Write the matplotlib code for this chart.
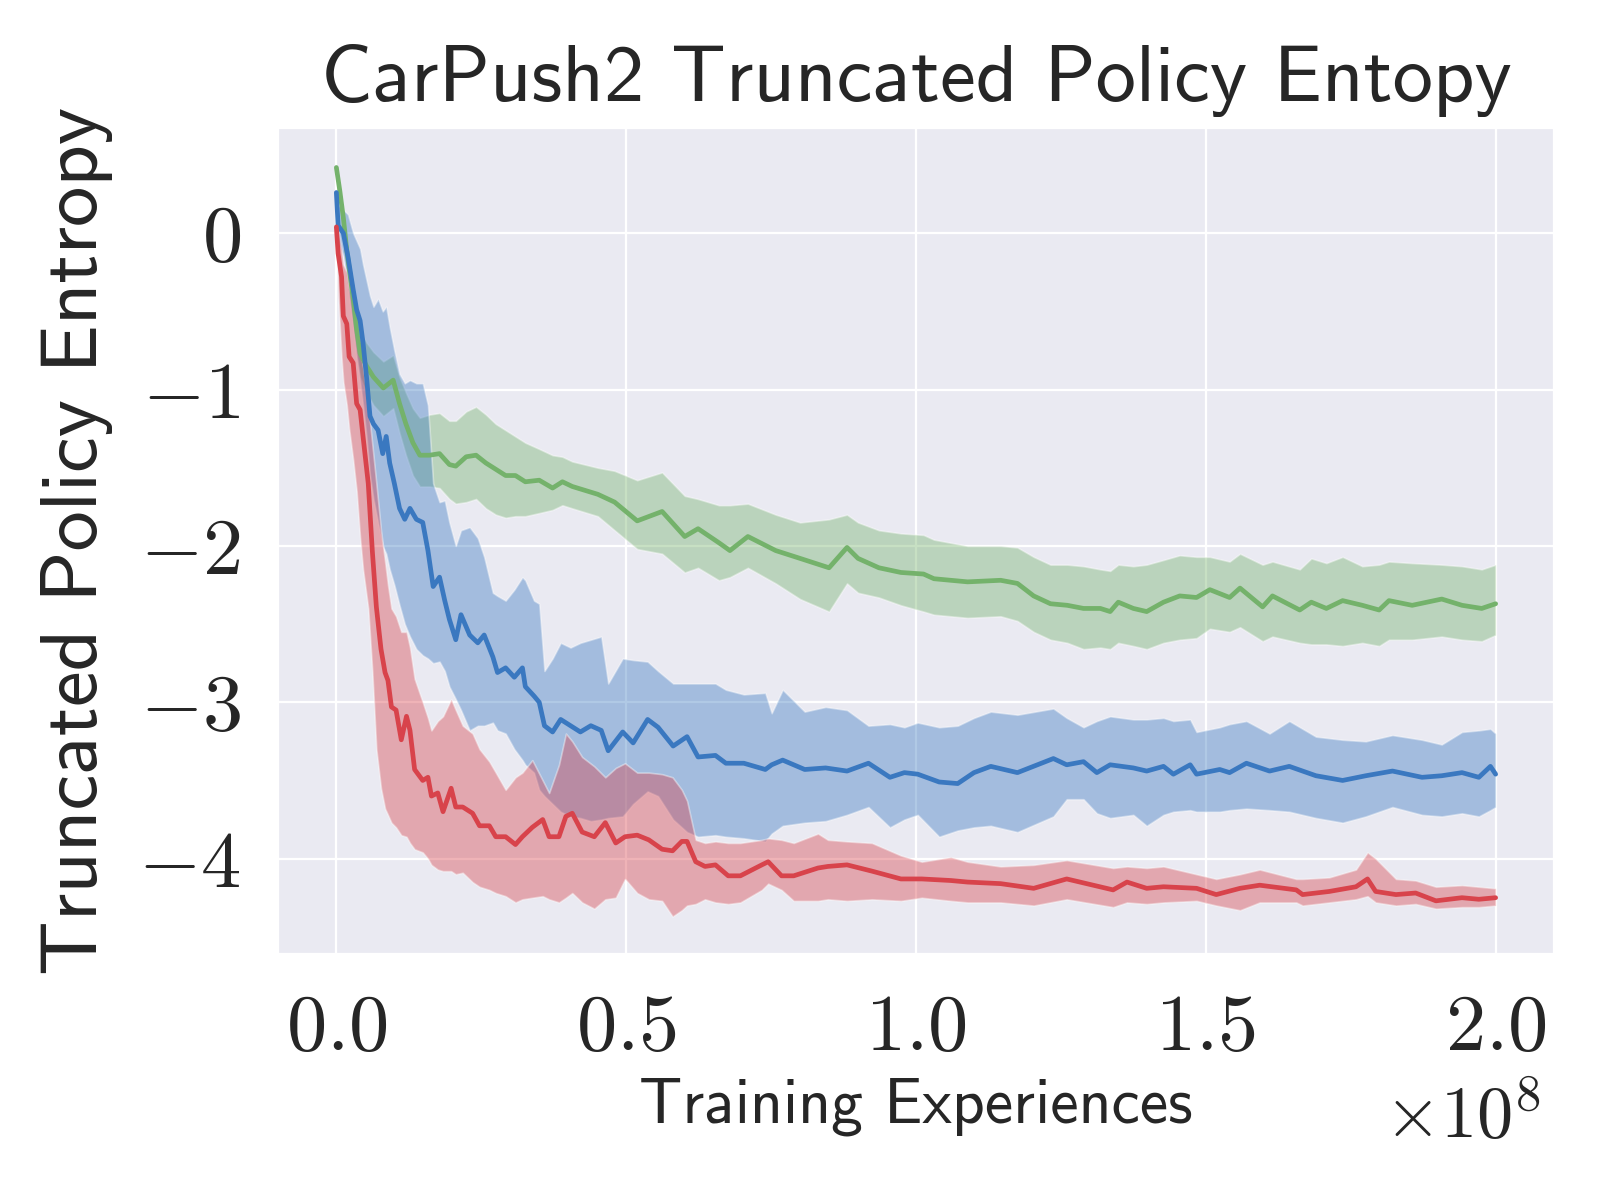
"""
CarPush2 truncated policy entropy vs training experiences.
Three runs, mean curve with a shaded band.
"""

import numpy as np
import matplotlib
matplotlib.use("Agg")
import matplotlib.pyplot as plt
from matplotlib.ticker import FuncFormatter
import seaborn as sns

# x positions are in units of 1e8 training experiences
SCALE = 1e8

# --- green run ---
green_x = [0.000, 0.006, 0.012, 0.018, 0.024, 0.030, 0.035, 0.041, 0.052, 0.064,
           0.081, 0.098, 0.109, 0.120, 0.132, 0.144, 0.161, 0.178, 0.195, 0.206,
           0.224, 0.241, 0.258, 0.275, 0.292, 0.309, 0.326, 0.350, 0.373, 0.390,
           0.407, 0.451, 0.480, 0.519, 0.562, 0.601, 0.624, 0.660, 0.679, 0.710,
           0.758, 0.800, 0.850, 0.881, 0.900, 0.936, 0.974, 1.013, 1.031, 1.089,
           1.146, 1.175, 1.203, 1.232, 1.261, 1.289, 1.318, 1.335, 1.349, 1.375,
           1.398, 1.427, 1.455, 1.484, 1.507, 1.541, 1.559, 1.598, 1.615, 1.662,
           1.682, 1.708, 1.736, 1.770, 1.799, 1.816, 1.856, 1.907, 1.942, 1.976,
           2.000]
green_mean = [0.42, 0.27, 0.10, -0.11, -0.28, -0.45, -0.62, -0.77, -0.85, -0.92,
              -0.99, -0.94, -1.09, -1.22, -1.34, -1.42, -1.42, -1.41, -1.48, -1.49,
              -1.43, -1.42, -1.47, -1.51, -1.55, -1.55, -1.59, -1.58, -1.63, -1.59,
              -1.62, -1.67, -1.72, -1.84, -1.78, -1.94, -1.89, -1.98, -2.03, -1.94,
              -2.03, -2.08, -2.14, -2.01, -2.08, -2.14, -2.17, -2.18, -2.21, -2.23,
              -2.22, -2.24, -2.32, -2.37, -2.38, -2.40, -2.40, -2.42, -2.36, -2.40,
              -2.42, -2.36, -2.32, -2.33, -2.28, -2.33, -2.27, -2.39, -2.32, -2.41,
              -2.36, -2.40, -2.35, -2.38, -2.41, -2.35, -2.38, -2.34, -2.38, -2.40,
              -2.37]
green_hi = [0.43, 0.30, 0.15, -0.04, -0.18, -0.33, -0.48, -0.62, -0.70, -0.76,
            -0.82, -0.78, -0.92, -1.02, -1.12, -1.18, -1.16, -1.15, -1.20, -1.20,
            -1.14, -1.11, -1.16, -1.22, -1.26, -1.30, -1.34, -1.38, -1.42, -1.43,
            -1.46, -1.50, -1.52, -1.58, -1.53, -1.68, -1.70, -1.74, -1.74, -1.73,
            -1.80, -1.85, -1.83, -1.80, -1.85, -1.90, -1.92, -1.93, -1.96, -2.00,
            -2.00, -2.01, -2.07, -2.12, -2.12, -2.13, -2.15, -2.16, -2.12, -2.13,
            -2.12, -2.09, -2.06, -2.07, -2.07, -2.10, -2.05, -2.12, -2.10, -2.15,
            -2.08, -2.11, -2.07, -2.13, -2.12, -2.10, -2.11, -2.12, -2.13, -2.15,
            -2.12]
green_lo = [0.40, 0.22, 0.03, -0.20, -0.40, -0.58, -0.76, -0.92, -1.02, -1.10,
            -1.17, -1.12, -1.28, -1.42, -1.55, -1.62, -1.62, -1.63, -1.70, -1.73,
            -1.72, -1.70, -1.76, -1.80, -1.82, -1.81, -1.81, -1.79, -1.77, -1.74,
            -1.76, -1.81, -1.90, -2.02, -2.05, -2.17, -2.14, -2.22, -2.20, -2.14,
            -2.24, -2.34, -2.42, -2.24, -2.30, -2.33, -2.38, -2.42, -2.44, -2.46,
            -2.45, -2.48, -2.55, -2.60, -2.62, -2.66, -2.65, -2.66, -2.62, -2.64,
            -2.66, -2.62, -2.60, -2.59, -2.53, -2.55, -2.52, -2.61, -2.58, -2.62,
            -2.63, -2.63, -2.64, -2.62, -2.64, -2.60, -2.60, -2.58, -2.60, -2.61,
            -2.57]

# --- blue run ---
blue_x = [0.000, 0.003, 0.012, 0.020, 0.029, 0.035, 0.041, 0.046, 0.052, 0.058,
          0.064, 0.072, 0.080, 0.086, 0.092, 0.100, 0.109, 0.118, 0.127, 0.138,
          0.149, 0.158, 0.167, 0.178, 0.187, 0.195, 0.206, 0.215, 0.230, 0.244,
          0.255, 0.270, 0.278, 0.292, 0.307, 0.321, 0.326, 0.341, 0.350, 0.359,
          0.373, 0.387, 0.404, 0.421, 0.439, 0.457, 0.469, 0.494, 0.512, 0.537,
          0.555, 0.581, 0.605, 0.624, 0.654, 0.672, 0.703, 0.740, 0.751, 0.770,
          0.808, 0.844, 0.881, 0.918, 0.955, 0.980, 1.003, 1.040, 1.072, 1.100,
          1.129, 1.175, 1.237, 1.260, 1.289, 1.312, 1.335, 1.375, 1.398, 1.427,
          1.444, 1.473, 1.484, 1.524, 1.541, 1.570, 1.610, 1.644, 1.690, 1.736,
          1.776, 1.822, 1.873, 1.907, 1.942, 1.971, 1.991, 2.000]
blue_mean = [0.26, 0.05, 0.00, -0.15, -0.36, -0.49, -0.56, -0.70, -0.92, -1.17,
             -1.22, -1.26, -1.41, -1.30, -1.47, -1.60, -1.76, -1.83, -1.76, -1.83,
             -1.85, -2.03, -2.26, -2.20, -2.35, -2.47, -2.60, -2.44, -2.57, -2.62,
             -2.57, -2.71, -2.81, -2.78, -2.84, -2.78, -2.90, -2.96, -3.00, -3.15,
             -3.19, -3.11, -3.15, -3.19, -3.15, -3.18, -3.31, -3.19, -3.26, -3.11,
             -3.16, -3.28, -3.22, -3.35, -3.34, -3.39, -3.39, -3.43, -3.40, -3.37,
             -3.43, -3.42, -3.44, -3.39, -3.48, -3.45, -3.46, -3.51, -3.52, -3.45,
             -3.41, -3.45, -3.36, -3.40, -3.38, -3.45, -3.40, -3.42, -3.44, -3.41,
             -3.46, -3.40, -3.46, -3.43, -3.45, -3.39, -3.44, -3.41, -3.47, -3.50,
             -3.47, -3.44, -3.48, -3.47, -3.45, -3.48, -3.41, -3.46]
blue_hi = [0.27, 0.18, 0.15, 0.12, 0.00, -0.05, -0.10, -0.20, -0.30, -0.40,
           -0.47, -0.42, -0.50, -0.47, -0.60, -0.75, -0.90, -0.96, -0.94, -0.96,
           -0.96, -1.10, -1.60, -1.72, -1.71, -1.85, -2.00, -1.90, -1.88, -1.95,
           -2.07, -2.30, -2.32, -2.35, -2.28, -2.20, -2.22, -2.35, -2.37, -2.80,
           -2.72, -2.62, -2.65, -2.62, -2.60, -2.58, -2.88, -2.72, -2.73, -2.74,
           -2.80, -2.88, -2.88, -2.88, -2.88, -2.92, -2.95, -2.94, -3.07, -2.92,
           -3.06, -3.03, -3.05, -3.15, -3.14, -3.16, -3.13, -3.16, -3.15, -3.10,
           -3.06, -3.08, -3.04, -3.10, -3.16, -3.12, -3.09, -3.11, -3.11, -3.10,
           -3.12, -3.11, -3.19, -3.16, -3.14, -3.12, -3.20, -3.12, -3.22, -3.24,
           -3.25, -3.21, -3.24, -3.27, -3.19, -3.18, -3.17, -3.20]
blue_lo = [0.24, -0.05, -0.15, -0.35, -0.60, -0.80, -0.95, -1.10, -1.30, -1.55,
           -1.70, -1.85, -2.00, -2.05, -2.15, -2.25, -2.38, -2.50, -2.58, -2.66,
           -2.70, -2.72, -2.75, -2.74, -2.80, -2.90, -2.98, -3.05, -3.18, -3.15,
           -3.15, -3.13, -3.18, -3.20, -3.30, -3.37, -3.40, -3.45, -3.56, -3.60,
           -3.65, -3.70, -3.73, -3.74, -3.76, -3.75, -3.74, -3.73, -3.65, -3.57,
           -3.60, -3.75, -3.83, -3.86, -3.85, -3.86, -3.87, -3.89, -3.84, -3.79,
           -3.77, -3.76, -3.72, -3.67, -3.80, -3.75, -3.72, -3.86, -3.82, -3.80,
           -3.79, -3.83, -3.73, -3.62, -3.62, -3.71, -3.74, -3.72, -3.79, -3.72,
           -3.70, -3.69, -3.70, -3.70, -3.69, -3.68, -3.69, -3.70, -3.74, -3.77,
           -3.73, -3.67, -3.72, -3.73, -3.71, -3.73, -3.69, -3.67]

# --- red run ---
red_x = [0.000, 0.003, 0.009, 0.012, 0.018, 0.022, 0.029, 0.035, 0.041, 0.046,
         0.055, 0.062, 0.069, 0.077, 0.084, 0.089, 0.095, 0.103, 0.112, 0.121,
         0.127, 0.135, 0.149, 0.158, 0.164, 0.175, 0.184, 0.198, 0.206, 0.218,
         0.235, 0.247, 0.264, 0.275, 0.292, 0.309, 0.321, 0.338, 0.356, 0.367,
         0.384, 0.396, 0.407, 0.424, 0.445, 0.464, 0.482, 0.498, 0.519, 0.539,
         0.562, 0.580, 0.596, 0.605, 0.620, 0.636, 0.654, 0.676, 0.697, 0.734,
         0.745, 0.768, 0.789, 0.831, 0.848, 0.881, 0.924, 0.974, 1.010, 1.060,
         1.089, 1.146, 1.203, 1.260, 1.340, 1.364, 1.398, 1.427, 1.484, 1.518,
         1.559, 1.593, 1.656, 1.667, 1.713, 1.759, 1.779, 1.793, 1.828, 1.862,
         1.897, 1.942, 1.971, 2.000]
red_mean = [0.04, -0.13, -0.28, -0.53, -0.58, -0.79, -0.83, -1.09, -1.13, -1.30,
            -1.60, -2.03, -2.39, -2.66, -2.81, -2.86, -3.03, -3.05, -3.24, -3.09,
            -3.18, -3.43, -3.50, -3.48, -3.60, -3.58, -3.70, -3.55, -3.67, -3.67,
            -3.71, -3.79, -3.79, -3.86, -3.86, -3.91, -3.86, -3.80, -3.75, -3.86,
            -3.86, -3.73, -3.71, -3.83, -3.86, -3.77, -3.90, -3.86, -3.85, -3.88,
            -3.94, -3.95, -3.89, -3.89, -4.02, -4.05, -4.04, -4.11, -4.11, -4.04,
            -4.02, -4.11, -4.11, -4.06, -4.05, -4.04, -4.08, -4.13, -4.13, -4.14,
            -4.15, -4.16, -4.19, -4.13, -4.20, -4.15, -4.19, -4.18, -4.19, -4.23,
            -4.19, -4.17, -4.20, -4.23, -4.21, -4.18, -4.13, -4.21, -4.23, -4.22,
            -4.27, -4.25, -4.26, -4.25]
red_hi = [0.05, 0.02, -0.10, -0.20, -0.25, -0.35, -0.45, -0.60, -0.75, -0.85,
          -1.10, -1.35, -1.60, -1.90, -2.10, -2.25, -2.40, -2.45, -2.55, -2.55,
          -2.65, -2.85, -3.00, -3.10, -3.18, -3.12, -3.09, -2.98, -3.05, -3.15,
          -3.20, -3.30, -3.38, -3.45, -3.56, -3.48, -3.45, -3.37, -3.50, -3.58,
          -3.40, -3.20, -3.25, -3.35, -3.41, -3.48, -3.42, -3.39, -3.45, -3.45,
          -3.46, -3.48, -3.56, -3.63, -3.88, -3.90, -3.89, -3.90, -3.90, -3.88,
          -3.87, -3.88, -3.90, -3.84, -3.88, -3.89, -3.90, -3.98, -4.02, -3.99,
          -4.02, -4.05, -4.04, -4.01, -4.06, -4.05, -4.06, -4.05, -4.10, -4.13,
          -4.10, -4.07, -4.13, -4.13, -4.12, -4.07, -3.96, -4.00, -4.13, -4.14,
          -4.18, -4.17, -4.18, -4.19]
red_lo = [0.02, -0.40, -0.80, -0.95, -1.10, -1.25, -1.45, -1.65, -1.95, -2.15,
          -2.40, -2.80, -3.30, -3.55, -3.68, -3.72, -3.77, -3.80, -3.85, -3.86,
          -3.90, -3.94, -3.96, -4.00, -4.04, -4.07, -4.08, -4.08, -4.10, -4.09,
          -4.15, -4.18, -4.20, -4.22, -4.24, -4.28, -4.26, -4.25, -4.24, -4.26,
          -4.28, -4.25, -4.22, -4.28, -4.32, -4.26, -4.25, -4.13, -4.22, -4.26,
          -4.27, -4.37, -4.33, -4.30, -4.29, -4.26, -4.28, -4.29, -4.28, -4.20,
          -4.16, -4.20, -4.27, -4.27, -4.26, -4.27, -4.26, -4.27, -4.25, -4.27,
          -4.28, -4.28, -4.30, -4.26, -4.31, -4.28, -4.29, -4.28, -4.27, -4.30,
          -4.33, -4.28, -4.28, -4.30, -4.28, -4.26, -4.24, -4.28, -4.30, -4.29,
          -4.32, -4.31, -4.31, -4.30]

GREEN = "#74b26b"
BLUE = "#3a78c0"
RED = "#d8434b"

sns.set_style("darkgrid")
plt.rcParams["font.family"] = ["cmss10", "DejaVu Sans"]
plt.rcParams["mathtext.fontset"] = "cm"

fig, ax = plt.subplots(figsize=(8, 6), dpi=200)
fig.subplots_adjust(left=0.174, right=0.971, bottom=0.205, top=0.893)

runs = [
    (green_x, green_mean, green_lo, green_hi, GREEN),
    (blue_x, blue_mean, blue_lo, blue_hi, BLUE),
    (red_x, red_mean, red_lo, red_hi, RED),
]
for xs, mean, lo, hi, color in runs:
    steps = np.array(xs) * SCALE
    ax.fill_between(steps, lo, hi, color=color, alpha=0.4,
                    edgecolor="white", linewidth=0.6)
    ax.plot(steps, mean, color=color, linewidth=1.7)

# tick labels in Computer Modern (mathtext), like a LaTeX figure
ax.set_yticks([0, -1, -2, -3, -4])
ax.yaxis.set_major_formatter(FuncFormatter(lambda v, p: f"${int(round(v))}$"))
ax.xaxis.set_major_formatter(FuncFormatter(lambda v, p: f"${v / SCALE:.1f}$"))
ax.text(0.99, -0.158, r"$\times10^{8}$", transform=ax.transAxes,
        ha="right", va="top", fontsize=26)

ax.set_title("CarPush2 Truncated Policy Entopy", fontsize=29, pad=10)
ax.set_xlabel("Training Experiences", fontsize=23, labelpad=4)
ax.set_ylabel("Truncated Policy Entropy", fontsize=29, labelpad=9)
ax.tick_params(axis="both", labelsize=29)
ax.tick_params(axis="y", pad=10)
ax.tick_params(axis="x", pad=11)

fig.savefig("out.png", dpi=200)
